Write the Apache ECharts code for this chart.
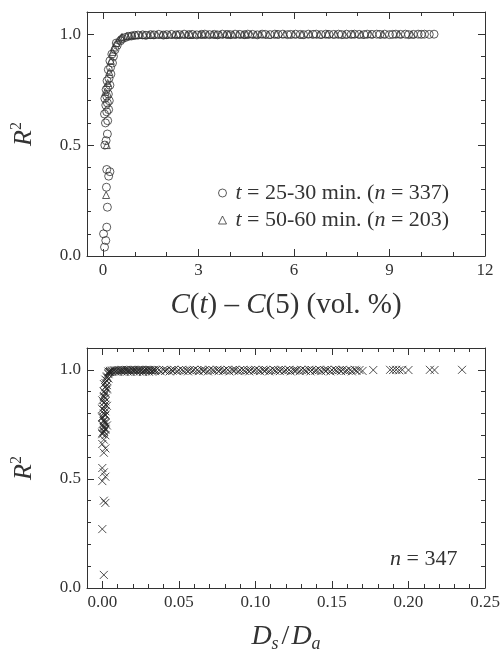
<!DOCTYPE html>
<html>
<head>
<meta charset="utf-8">
<script src="https://cdn.jsdelivr.net/npm/echarts@6/dist/echarts.min.js"></script>
<style>html,body{margin:0;padding:0;background:#fff}#c{width:504px;height:654px}</style>
</head>
<body>
<div id="c"></div>
<script>
// ---- Top panel data: R^2 vs C(t) - C(5) ----
var circX = [0.05,0.09,0.02,0.12,0.14,0.11,0.18,0.12,0.22,0.06,0.10,0.14,0.08,0.15,0.05,0.12,0.18,0.09,0.14,0.20,0.06,0.12,0.17,0.10,0.15,0.22,0.13,0.19,0.25,0.17,0.24,0.30,0.22,0.33,0.28,0.38,0.45,0.42,0.55,0.62,0.70,0.80,
  0.90,1.00,1.10,1.25,1.35,1.50,1.60,1.75,1.90,2.00,2.15,2.30,2.40,2.55,2.70,2.80,2.95,3.10,3.20,3.35,3.50,3.60,3.75,3.90,4.00,4.15,4.30,4.45,4.55,4.70,4.85,5.00,5.10,5.25,5.40,5.50,5.65,5.80,5.90,6.05,6.20,6.30,6.45,6.60,6.70,6.85,7.00,7.10,7.25,7.40,7.50,7.65,7.80,7.90,8.05,8.20,8.30,8.45,8.60,8.70,8.85,9.00,9.10,9.20,9.35,9.50,9.60,9.75,9.90,10.00,10.10,10.25,10.40];
var circY = [0.04,0.07,0.10,0.13,0.22,0.31,0.36,0.39,0.38,0.50,0.52,0.55,0.60,0.61,0.64,0.65,0.66,0.68,0.69,0.70,0.71,0.72,0.73,0.75,0.76,0.77,0.79,0.80,0.82,0.84,0.85,0.87,0.88,0.90,0.91,0.93,0.95,0.96,0.97,0.98,0.985,0.99,
  0.992,0.995,0.996,0.997,0.995,0.998,0.997,0.999,0.996,0.998,0.999,0.997,0.998,1.000,0.998,0.999,0.997,0.999,1.000,0.998,0.999,0.997,1.000,0.999,0.998,1.000,0.999,0.998,1.000,0.999,0.997,1.000,0.999,0.998,1.000,0.999,1.000,0.998,0.999,1.000,0.999,0.998,1.000,0.999,1.000,0.998,1.000,0.999,0.999,1.000,0.998,1.000,0.999,1.000,0.999,0.998,1.000,0.999,1.000,0.999,1.000,0.998,0.999,1.000,0.999,1.000,0.998,0.999,1.000,0.999,1.000,0.999,1.000];
var triX = [0.10,0.12,0.08,0.15,0.20,0.25,0.30,0.35,0.42,0.50,0.58,
  0.60,0.75,0.85,0.95,1.05,1.20,1.30,1.45,1.55,1.70,1.85,1.95,2.10,2.25,2.35,2.50,2.65,2.75,2.90,3.05,3.15,3.30,3.45,3.55,3.70,3.85,3.95,4.10,4.25,4.40,4.50,4.65,4.80,4.95,5.20,5.45,5.70,6.00,6.25,6.50,6.80,7.05,7.30,7.60,7.85,8.10,8.40,8.80,9.30,9.70];
var triY = [0.275,0.50,0.74,0.78,0.83,0.88,0.92,0.94,0.96,0.975,0.985,
  0.988,0.992,0.994,0.995,0.996,0.997,0.996,0.998,0.997,0.998,0.999,0.997,0.998,0.999,1.000,0.998,0.999,0.997,0.999,1.000,0.998,0.999,1.000,0.998,0.999,1.000,0.999,0.998,1.000,0.999,0.998,1.000,0.999,1.000,0.998,0.999,1.000,0.999,0.998,1.000,0.999,1.000,0.999,0.998,1.000,0.999,1.000,0.999,1.000,0.999];

// ---- Bottom panel data: R^2 vs Ds/Da ----
var crossX = [0.001,0.000,0.002,0.001,0.000,0.002,0.001,0.000,0.001,0.002,0.000,0.001,0.002,0.000,0.001,0.002,0.001,0.000,0.002,0.001,0.000,0.002,0.001,0.002,0.000,0.001,0.002,0.001,0.000,0.002,0.001,0.002,0.001,0.003,0.002,0.003,0.002,0.003,0.004,0.003,0.004,0.005,
  0.000,0.001,0.002,0.001,0.003,0.002,0.001,0.000,0.002,0.001,0.003,0.002,0.001,0.002,0.003,0.001,0.002,0.003,0.004,
  0.004,0.005,0.006,0.007,0.008,0.009,0.010,0.011,0.012,0.013,0.014,0.015,0.016,0.017,0.018,0.019,0.020,0.021,0.022,0.023,0.024,0.025,0.026,0.027,0.028,0.029,0.030,0.031,0.032,0.033,0.034,0.035,
  0.0045,0.0065,0.0085,0.0105,0.0125,0.0145,0.0165,0.0185,0.0205,0.0225,0.0245,0.0265,0.0285,0.0305,0.0325,0.0345,
  0.037,0.040,0.042,0.045,0.047,0.050,0.052,0.055,0.057,0.060,0.062,0.065,0.067,0.070,0.072,0.075,0.077,0.080,0.082,0.085,0.087,0.090,0.092,0.095,0.097,0.100,0.102,0.105,0.107,0.110,0.112,0.115,0.117,0.120,0.122,0.125,0.127,0.130,0.132,0.135,0.137,0.140,0.142,0.145,0.147,0.150,0.152,0.155,0.157,0.160,0.162,0.165,0.168,
  0.038,0.041,0.044,0.046,0.049,0.053,0.056,0.059,0.063,0.066,0.069,0.073,0.076,0.079,0.083,0.086,0.089,0.093,0.096,0.099,0.103,0.106,0.109,0.113,0.116,0.119,0.123,0.126,0.129,0.133,0.136,0.139,0.143,0.146,0.149,0.153,0.156,0.159,0.163,0.166,0.170,
  0.177,0.188,0.190,0.192,0.194,0.196,0.200,0.214,0.217,0.235];
var crossY = [0.06,0.27,0.39,0.40,0.49,0.51,0.53,0.55,0.62,0.64,0.66,0.68,0.70,0.71,0.72,0.73,0.74,0.75,0.76,0.77,0.78,0.79,0.80,0.81,0.82,0.83,0.84,0.85,0.86,0.87,0.88,0.89,0.90,0.91,0.92,0.93,0.94,0.95,0.96,0.97,0.98,0.99,
  0.705,0.715,0.725,0.735,0.745,0.755,0.765,0.785,0.795,0.815,0.835,0.855,0.875,0.895,0.915,0.935,0.955,0.965,0.985,
  0.992,0.995,0.996,0.997,0.998,0.997,0.999,0.998,0.999,1.000,0.998,0.999,1.000,0.999,0.998,1.000,0.999,1.000,0.998,0.999,1.000,0.999,1.000,0.998,0.999,1.000,0.999,1.000,0.999,0.998,1.000,0.999,
  0.990,0.991,0.992,0.990,0.993,0.991,0.992,0.990,0.993,0.991,0.992,0.990,0.993,0.991,0.992,0.994,
  0.999,1.000,0.998,0.999,1.000,0.999,1.000,0.998,0.999,1.000,0.999,1.000,0.998,1.000,0.999,1.000,0.999,0.998,1.000,0.999,1.000,0.999,1.000,0.998,0.999,1.000,0.999,1.000,0.999,0.998,1.000,0.999,1.000,0.999,1.000,0.998,0.999,1.000,0.999,1.000,0.999,0.998,1.000,0.999,1.000,0.999,1.000,0.999,1.000,0.998,0.999,1.000,0.999,
  0.994,0.995,0.993,0.996,0.994,0.995,0.993,0.996,0.994,0.995,0.993,0.996,0.994,0.995,0.993,0.996,0.994,0.995,0.993,0.996,0.994,0.995,0.993,0.996,0.994,0.995,0.993,0.996,0.994,0.995,0.993,0.996,0.994,0.995,0.993,0.996,0.994,0.995,0.993,0.996,0.995,
  0.999,1.000,0.999,1.000,0.998,1.000,0.999,1.000,0.999,1.000];

// ---- Tick values ----
var topXMajor = [0, 3, 6, 9, 12];
var topXMinor = [1, 2, 4, 5, 7, 8, 10, 11];
var botXMajor = [0, 0.05, 0.10, 0.15, 0.20, 0.25];
var botXMinor = [0.01,0.02,0.03,0.04,0.06,0.07,0.08,0.09,0.11,0.12,0.13,0.14,0.16,0.17,0.18,0.19,0.21,0.22,0.23,0.24];
var yMajor = [0, 0.5, 1.0];
var yMinor = [0.1, 0.2, 0.3, 0.4, 0.6, 0.7, 0.8, 0.9];

var FONT = "'Liberation Serif','DejaVu Serif',serif";
var INK = '#333';

function zip(a, b) { return a.map(function (v, i) { return [v, b[i]]; }); }

function axisSet(kind, gridIndex, min, max, major, minor, fmt, name, nameGap) {
  var base = function (pos, ticks, len, labels, line) {
    return {
      type: 'value', gridIndex: gridIndex, position: pos, min: min, max: max,
      splitLine: { show: false },
      axisLine: { show: line, onZero: false, lineStyle: { color: INK, width: 1 } },
      axisTick: { show: true, inside: true, length: len, customValues: ticks, lineStyle: { color: INK, width: 1 } },
      axisLabel: labels ? { show: true, customValues: ticks, formatter: fmt, fontFamily: FONT, fontSize: 17, color: INK, margin: 6 } : { show: false }
    };
  };
  var first = base(kind === 'x' ? 'bottom' : 'left', major, 7, true, true);
  first.name = name;
  first.nameLocation = 'middle';
  first.nameGap = nameGap;
  return [
    first,
    base(kind === 'x' ? 'bottom' : 'left', minor, 4, false, false),
    base(kind === 'x' ? 'top' : 'right', major, 7, false, true),
    base(kind === 'x' ? 'top' : 'right', minor, 4, false, false)
  ];
}

var topX = axisSet('x', 0, -0.5, 12, topXMajor, topXMinor, function (v) { return String(v); },
  '{i|C}({i|t}) \u2013 {i|C}(5) (vol. %)', 35);
topX[0].nameTextStyle = { fontFamily: FONT, fontSize: 29, color: INK,
  rich: { i: { fontFamily: FONT, fontSize: 29, fontStyle: 'italic', color: INK } } };
var botX = axisSet('x', 1, -0.01, 0.25, botXMajor, botXMinor, function (v) { return v.toFixed(2); },
  '{D|D}{s|s}{n|/}{D|D}{s|a}', 33);
botX[0].nameTextStyle = { fontFamily: FONT, fontSize: 28, color: INK,
  rich: {
    D: { fontFamily: FONT, fontSize: 28, fontStyle: 'italic', color: INK, lineHeight: 32, verticalAlign: 'middle' },
    n: { fontFamily: FONT, fontSize: 28, color: INK, lineHeight: 32, verticalAlign: 'middle', padding: [0, 2, 0, 3] },
    s: { fontFamily: FONT, fontSize: 18, fontStyle: 'italic', color: INK, lineHeight: 17, verticalAlign: 'bottom' }
  } };
var yFmt = function (v) { return v.toFixed(1); };
var yRich = { fontFamily: FONT, fontSize: 24, color: INK,
  rich: {
    i: { fontFamily: FONT, fontSize: 26, fontStyle: 'italic', color: INK, lineHeight: 30, verticalAlign: 'middle' },
    p: { fontFamily: FONT, fontSize: 16, color: INK, lineHeight: 16, verticalAlign: 'top' }
  } };
var topY = axisSet('y', 0, 0, 1.1, yMajor, yMinor, yFmt, '{i|R}{p|2}', 48);
topY[0].nameRotate = 90; topY[0].nameTextStyle = yRich;
var botY = axisSet('y', 1, 0, 1.1, yMajor, yMinor, yFmt, '{i|R}{p|2}', 48);
botY[0].nameRotate = 90; botY[0].nameTextStyle = yRich;

var legendRich = {
  i: { fontFamily: FONT, fontSize: 22, fontStyle: 'italic', color: INK },
  r: { fontFamily: FONT, fontSize: 22, color: INK }
};

var option = {
  animation: false,
  backgroundColor: '#fff',
  grid: [
    { left: 87, right: 19, top: 12, height: 244 },
    { left: 87, right: 19, top: 348, height: 240 }
  ],
  xAxis: topX.concat(botX),
  yAxis: topY.concat(botY),
  legend: {
    orient: 'vertical', left: 213, top: 177, itemGap: 5, itemWidth: 8, itemHeight: 8,
    data: [
      { name: 'c', itemStyle: { color: 'rgba(0,0,0,0)', borderColor: INK, borderWidth: 1 } },
      { name: 't', itemStyle: { color: 'rgba(0,0,0,0)', borderColor: INK, borderWidth: 1 } }
    ],
    formatter: function (n) {
      return n === 'c' ? '{i|t}{r| = 25-30 min. (}{i|n}{r| = 337)}' : '{i|t}{r| = 50-60 min. (}{i|n}{r| = 203)}';
    },
    textStyle: { fontFamily: FONT, fontSize: 22, color: INK, rich: legendRich, padding: [0, 0, 0, 4] }
  },
  title: {
    text: '{i|n}{r| = 347}', left: 385, top: 543,
    textStyle: { fontFamily: FONT, fontSize: 22, fontWeight: 'normal', color: INK, rich: legendRich }
  },
  series: [
    { name: 'c', type: 'scatter', xAxisIndex: 0, yAxisIndex: 0, symbol: 'circle', symbolSize: 8,
      itemStyle: { color: 'rgba(0,0,0,0)', borderColor: INK, borderWidth: 1 }, data: zip(circX, circY) },
    { name: 't', type: 'scatter', xAxisIndex: 0, yAxisIndex: 0, symbol: 'triangle', symbolSize: 7,
      itemStyle: { color: 'rgba(0,0,0,0)', borderColor: INK, borderWidth: 1 }, data: zip(triX, triY) },
    { name: 'x', type: 'scatter', xAxisIndex: 4, yAxisIndex: 4, symbol: 'path://M0,0L10,10M10,0L0,10', symbolSize: 8,
      itemStyle: { color: 'none', borderColor: '#222', borderWidth: 1 }, data: zip(crossX, crossY) }
  ]
};

var chart = echarts.init(document.getElementById('c'), null, { renderer: 'canvas' });
chart.setOption(option);
</script>
</body>
</html>
